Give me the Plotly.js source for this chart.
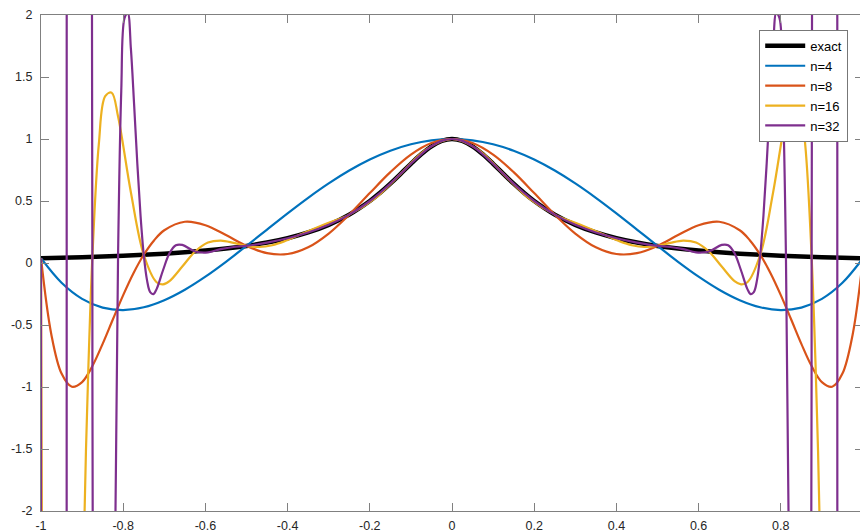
<!DOCTYPE html>
<html>
<head>
<meta charset="utf-8">
<script src="https://cdn.plot.ly/plotly-3.0.1.min.js"></script>
<style>
html, body { margin: 0; padding: 0; overflow: hidden; background: #fff; }
#chart { width: 863px; height: 530px; }
</style>
</head>
<body>
<div id="chart"></div>
<script>
// ---- data ----
const seriesNames = ['exact', 'n=4', 'n=8', 'n=16', 'n=32'];

const exactX = [-1,-0.95,-0.9,-0.85,-0.8,-0.75,-0.7,-0.65,-0.6,-0.55,-0.5,-0.45,-0.4,-0.35,-0.3,-0.25,-0.2,-0.175,-0.15,-0.125,-0.1,-0.075,-0.05,-0.025,0,0.025,0.05,0.075,0.1,0.125,0.15,0.175,0.2,0.25,0.3,0.35,0.4,0.45,0.5,0.55,0.6,0.65,0.7,0.75,0.8,0.85,0.9,0.95,1];
const exactY = [0.0385,0.0424,0.0471,0.0525,0.0588,0.0664,0.0755,0.0865,0.1,0.1168,0.1379,0.1649,0.2,0.2462,0.3077,0.3902,0.5,0.5664,0.64,0.7191,0.8,0.8767,0.9412,0.9846,1,0.9846,0.9412,0.8767,0.8,0.7191,0.64,0.5664,0.5,0.3902,0.3077,0.2462,0.2,0.1649,0.1379,0.1168,0.1,0.0865,0.0755,0.0664,0.0588,0.0525,0.0471,0.0424,0.0385];

const n4X = [-1,-0.95,-0.9,-0.85,-0.8,-0.75,-0.7,-0.65,-0.6,-0.55,-0.5,-0.45,-0.4,-0.35,-0.3,-0.25,-0.2,-0.15,-0.1,-0.05,0,0.05,0.1,0.15,0.2,0.25,0.3,0.35,0.4,0.45,0.5,0.55,0.6,0.65,0.7,0.75,0.8,0.85,0.9,0.95,1];
const n4Y = [0.0385,-0.1595,-0.2891,-0.3595,-0.3793,-0.3568,-0.2997,-0.2153,-0.1101,0.0096,0.1379,0.2698,0.4005,0.5258,0.6419,0.7456,0.8342,0.9054,0.9576,0.9893,1,0.9893,0.9576,0.9054,0.8342,0.7456,0.6419,0.5258,0.4005,0.2698,0.1379,0.0096,-0.1101,-0.2153,-0.2997,-0.3568,-0.3793,-0.3595,-0.2891,-0.1595,0.0385];

const n8X = [-1,-0.975,-0.95,-0.925,-0.9,-0.875,-0.85,-0.825,-0.8,-0.775,-0.75,-0.725,-0.7,-0.65,-0.6,-0.55,-0.5,-0.45,-0.4,-0.35,-0.3,-0.25,-0.2,-0.15,-0.1,-0.05,0,0.05,0.1,0.15,0.2,0.25,0.3,0.35,0.4,0.45,0.5,0.55,0.6,0.65,0.7,0.725,0.75,0.775,0.8,0.825,0.85,0.875,0.9,0.925,0.95,0.975,1];
const n8Y = [0.0385,-0.5740,-0.8917,-0.9980,-0.9601,-0.8310,-0.6519,-0.4537,-0.2587,-0.0822,0.0664,0.1821,0.2638,0.3327,0.3049,0.2251,0.1379,0.0794,0.0726,0.1266,0.2374,0.3902,0.5636,0.7328,0.8740,0.9674,1,0.9674,0.8740,0.7328,0.5636,0.3902,0.2374,0.1266,0.0726,0.0794,0.1379,0.2251,0.3049,0.3327,0.2638,0.1821,0.0664,-0.0822,-0.2587,-0.4537,-0.6519,-0.8310,-0.9601,-0.9980,-0.8917,-0.5740,0.0385];

const n16X = [-1,-0.99625,-0.9875,-0.96875,-0.9375,-0.90625,-0.890625,-0.8828,-0.875,-0.859375,-0.84375,-0.828125,-0.8125,-0.78125,-0.75,-0.71875,-0.703125,-0.6875,-0.65625,-0.625,-0.59375,-0.5625,-0.53125,-0.5,-0.46875,-0.4375,-0.40625,-0.375,-0.3125,-0.25,-0.1875,-0.125,-0.0625,0,0.0625,0.125,0.1875,0.25,0.3125,0.375,0.40625,0.4375,0.46875,0.5,0.53125,0.5625,0.59375,0.625,0.65625,0.6875,0.703125,0.71875,0.75,0.78125,0.8125,0.828125,0.84375,0.859375,0.875,0.8828,0.890625,0.90625,0.9375,0.96875,0.9875,0.99625,1];
const n16Y = [0.0385,-3.70,-9.81,-14.33,-10.17,-3.825,-1.517,-0.644,0.0497,0.9564,1.3458,1.3736,1.1818,0.5687,0.0664,-0.1551,-0.1721,-0.1461,-0.0286,0.0929,0.1647,0.1806,0.1622,0.1379,0.1290,0.1434,0.1774,0.2215,0.3075,0.3902,0.5207,0.7191,0.9162,1,0.9162,0.7191,0.5207,0.3902,0.3075,0.2215,0.1774,0.1434,0.1290,0.1379,0.1622,0.1806,0.1647,0.0929,-0.0286,-0.1461,-0.1721,-0.1551,0.0664,0.5687,1.1818,1.3736,1.3458,0.9564,0.0497,-0.644,-1.517,-3.825,-10.17,-14.33,-9.81,-3.70,0.0385];

const n32X = [-1,-0.99999,-0.9999,-0.96875,-0.9376,-0.9375,-0.9374,-0.90625,-0.8765,-0.875,-0.8735,-0.84375,-0.828125,-0.8125,-0.8046875,-0.796875,-0.7890625,-0.78125,-0.7734375,-0.765625,-0.7578125,-0.75,-0.7421875,-0.734375,-0.7265625,-0.71875,-0.703125,-0.6875,-0.671875,-0.65625,-0.625,-0.59375,-0.5625,-0.53125,-0.5,-0.45,-0.4,-0.35,-0.3,-0.25,-0.2,-0.175,-0.15,-0.125,-0.1,-0.075,-0.05,-0.025,0,0.025,0.05,0.075,0.1,0.125,0.15,0.175,0.2,0.25,0.3,0.35,0.4,0.45,0.5,0.53125,0.5625,0.59375,0.625,0.65625,0.671875,0.6875,0.703125,0.71875,0.7265625,0.734375,0.7421875,0.75,0.7578125,0.765625,0.7734375,0.78125,0.7890625,0.796875,0.8046875,0.8125,0.828125,0.84375,0.8735,0.875,0.8765,0.90625,0.9374,0.9375,0.9376,0.96875,0.9999,0.99999,1];
const n32Y = [0.0385,-9.3,-92.7,-2963,-3.03,0.0435,3.12,150.0,3.22,0.0497,-3.12,-13.05,-5.309,0.0571,1.3887,1.9736,2.0171,1.7264,1.2770,0.8009,0.3828,0.0664,-0.1363,-0.2349,-0.2509,-0.2107,-0.0585,0.0780,0.1434,0.1460,0.0929,0.0857,0.1122,0.1293,0.1379,0.1649,0.2,0.2462,0.3077,0.3902,0.5,0.5664,0.64,0.7191,0.8,0.8767,0.9412,0.9846,1,0.9846,0.9412,0.8767,0.8,0.7191,0.64,0.5664,0.5,0.3902,0.3077,0.2462,0.2,0.1649,0.1379,0.1293,0.1122,0.0857,0.0929,0.1460,0.1434,0.0780,-0.0585,-0.2107,-0.2509,-0.2349,-0.1363,0.0664,0.3828,0.8009,1.2770,1.7264,2.0171,1.9736,1.3887,0.0571,-5.309,-13.05,-3.12,0.0497,3.22,150.0,3.12,0.0435,-3.03,-2963,-92.7,-9.3,0.0385];

const xTickVals = [-1,-0.8,-0.6,-0.4,-0.2,0,0.2,0.4,0.6,0.8,1];
const xTickText = ['-1','-0.8','-0.6','-0.4','-0.2','0','0.2','0.4','0.6','0.8','1'];
const yTickVals = [-2,-1.5,-1,-0.5,0,0.5,1,1.5,2];
const yTickText = ['-2','-1.5','-1','-0.5','0','0.5','1','1.5','2'];

// ---- styling ----
const colors = ['#000000', '#0072BD', '#D95319', '#EDB120', '#7E2F8E'];
const widths = [4.5, 2.2, 2.2, 2.2, 2.2];
const xs = [exactX, n4X, n8X, n16X, n32X];
const ys = [exactY, n4Y, n8Y, n16Y, n32Y];

const traces = seriesNames.map((name, i) => ({
  type: 'scatter',
  mode: 'lines',
  name: name,
  x: xs[i],
  y: ys[i],
  line: { color: colors[i], width: widths[i], shape: 'spline', smoothing: 1, simplify: false },
  hoverinfo: 'skip'
}));

const font = { family: 'Liberation Sans, Arial, Helvetica, sans-serif', size: 12.5, color: '#262626' };
const axisCommon = {
  showgrid: false,
  zeroline: false,
  showline: true,
  linecolor: '#808080',
  linewidth: 1,
  mirror: 'ticks',
  ticks: 'inside',
  ticklen: 8,
  tickwidth: 1,
  tickcolor: '#808080',
  tickmode: 'array',
  tickfont: font,
  fixedrange: true
};

const layout = {
  width: 863,
  height: 530,
  margin: { l: 41, r: 0, t: 15, b: 19, pad: 0 },
  paper_bgcolor: '#ffffff',
  plot_bgcolor: '#ffffff',
  font: font,
  showlegend: true,
  xaxis: Object.assign({}, axisCommon, {
    range: [-1, 1],
    tickvals: xTickVals,
    ticktext: xTickText,
    ticklabelstandoff: 3
  }),
  yaxis: Object.assign({}, axisCommon, {
    range: [-2, 2],
    tickvals: yTickVals,
    ticktext: yTickText,
    ticklabelstandoff: 5
  }),
  legend: {
    x: 0.982,
    y: 0.970,
    xanchor: 'right',
    yanchor: 'top',
    bgcolor: '#ffffff',
    bordercolor: '#777777',
    borderwidth: 1,
    font: { family: 'Liberation Sans, Arial, Helvetica, sans-serif', size: 13, color: '#000000' },
    itemwidth: 40,
    traceorder: 'normal'
  }
};

Plotly.newPlot('chart', traces, layout, { displayModeBar: false, staticPlot: true });
</script>
</body>
</html>
